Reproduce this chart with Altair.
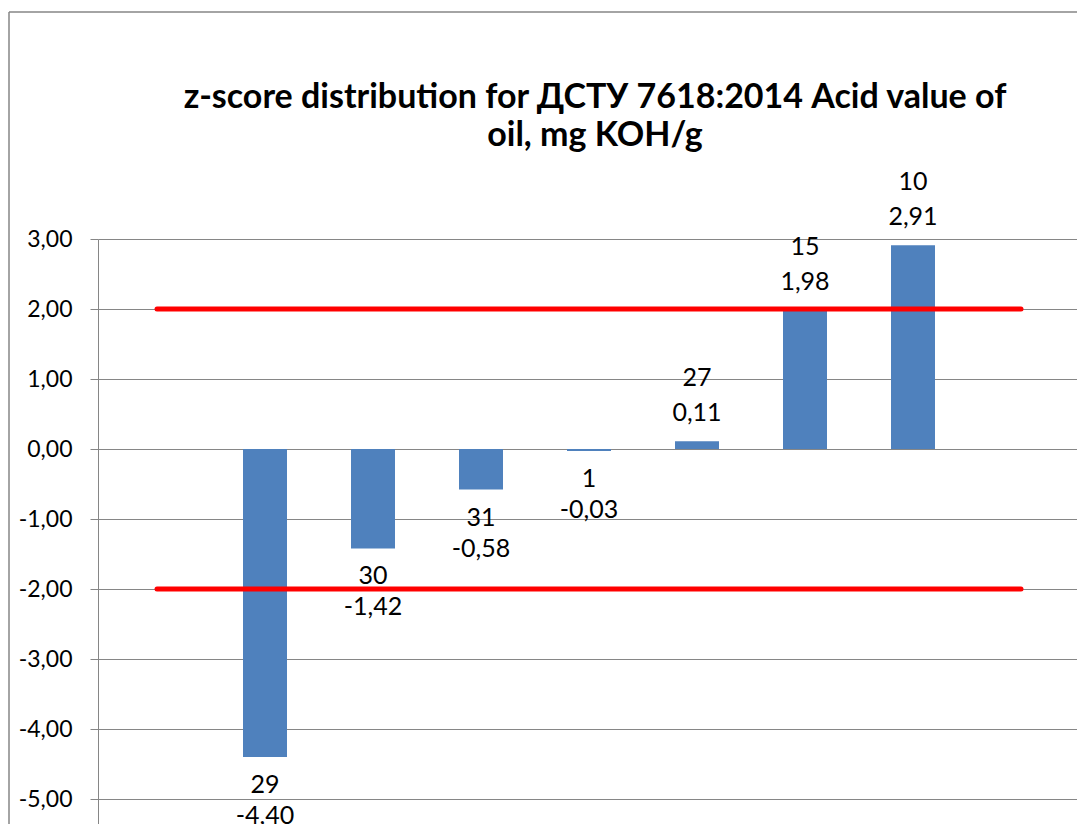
import altair as alt
import pandas as pd

# ---- data ----
participants = ["29", "30", "31", "1", "27", "15", "10"]
z_scores = [-4.40, -1.42, -0.58, -0.03, 0.11, 1.98, 2.91]
limit_values = [2.0, -2.0]
limit_start = [0, 0]
limit_end = [8, 8]
y_ticks = [-5, -4, -3, -2, -1, 0, 1, 2, 3]
title_lines = ["z-score distribution for ДСТУ 7618:2014 Acid value of", "oil, mg KOH/g"]

bars_df = pd.DataFrame({
    "participant": participants,
    "z": z_scores,
    "slot": list(range(1, len(participants) + 1)),
    "zlabel": [f"{v:.2f}".replace(".", ",") for v in z_scores],
})
limits_df = pd.DataFrame({"limit": limit_values, "x0": limit_start, "x1": limit_end})
frame_df = pd.DataFrame({"f": [0]})
title_df = pd.DataFrame({"t": [title_lines]})

FONT = "Lato"
GRID = "#868686"
PLOT_W = 979      # visible part of the plot inside the window
X_RANGE = 982     # full plot width of the original (right edge cropped)
PLOT_H = 585
PX_PER_UNIT = 70

x_scale = alt.Scale(domain=[-0.5, 8.5], range=[0, X_RANGE], nice=False, zero=False)
y_scale = alt.Scale(domain=[3 - PLOT_H / PX_PER_UNIT, 3], nice=False, zero=False)

tick_expr = "replace(replace(format(datum.value, '.2f'), '.', ','), '\u2212', '-')"

# outer chart frame: only the top and left edges fall inside the window
frame_left = alt.Chart(frame_df).mark_rule(color=GRID, strokeWidth=1.5).encode(
    x=alt.value(-89), y=alt.value(-227), y2=alt.value(1000)
)
frame_top = alt.Chart(frame_df).mark_rule(color=GRID, strokeWidth=1.5).encode(
    x=alt.value(-89), x2=alt.value(1300), y=alt.value(-227)
)

title = alt.Chart(title_df).mark_text(
    font=FONT, fontSize=34, fontWeight="bold", color="black",
    align="center", baseline="alphabetic", lineHeight=38,
).encode(x=alt.value(497), y=alt.value(-131), text="t")

bars = alt.Chart(bars_df).mark_bar(size=44, color="#4F81BD").encode(
    x=alt.X("slot:Q", scale=x_scale, axis=None),
    y=alt.Y(
        "z:Q",
        scale=y_scale,
        axis=alt.Axis(values=y_ticks, labelExpr=tick_expr, title=None, grid=True),
    ),
)

rules = alt.Chart(limits_df).mark_rule(color="#FF0000", strokeWidth=5, strokeCap="round").encode(
    x=alt.X("x0:Q", scale=x_scale, axis=None),
    x2="x1:Q",
    y=alt.Y("limit:Q", scale=y_scale),
)


def label_layer(filt, field, dy):
    return alt.Chart(bars_df).transform_filter(filt).mark_text(
        font=FONT, fontSize=25, color="black", baseline="alphabetic", align="center", dy=dy
    ).encode(
        x=alt.X("slot:Q", scale=x_scale, axis=None),
        y=alt.Y("z:Q", scale=y_scale),
        text=f"{field}:N",
    )


pos_val = label_layer("datum.z >= 0", "zlabel", -20)
pos_id = label_layer("datum.z >= 0", "participant", -55)
neg_id = label_layer("datum.z < 0", "participant", 36)
neg_val = label_layer("datum.z < 0", "zlabel", 67)

chart = alt.layer(frame_left, frame_top, title, bars, rules, pos_val, pos_id, neg_id, neg_val).properties(
    width=PLOT_W,
    height=PLOT_H,
    padding={"left": 90, "top": 231, "right": 0, "bottom": 0},
    autosize=alt.AutoSizeParams(type="none"),
).configure_view(stroke="transparent", strokeWidth=0).configure_axis(
    domainColor=GRID,
    domainWidth=1,
    tickColor=GRID,
    tickWidth=1,
    tickSize=8,
    gridColor=GRID,
    gridWidth=1,
    labelFont=FONT,
    labelFontSize=23,
    labelColor="black",
    labelPadding=18,
)

chart.save("out.html", embed_options={"renderer": "svg", "actions": False})
